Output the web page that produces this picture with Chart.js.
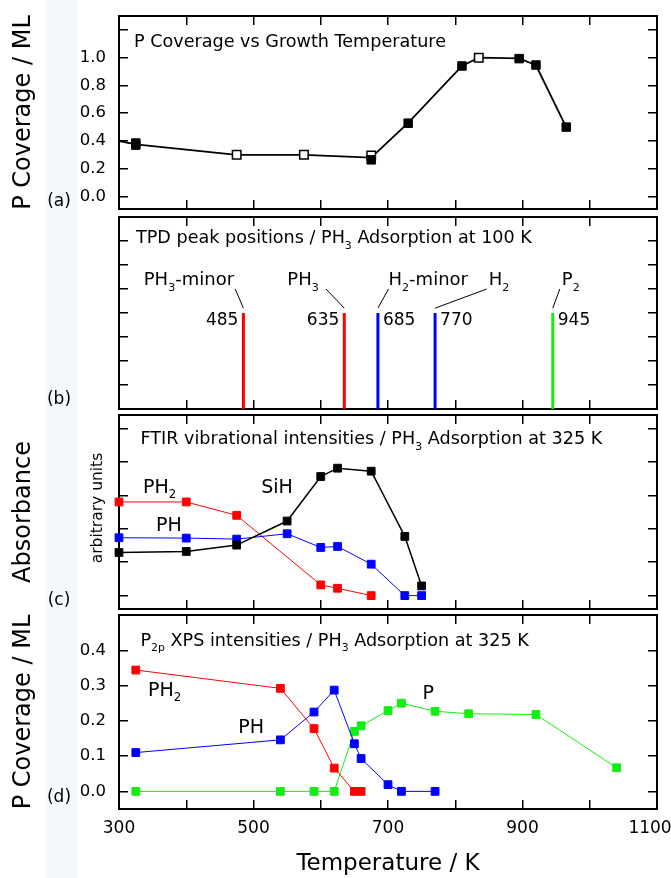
<!DOCTYPE html>
<html>
<head>
<meta charset="utf-8">
<script src="https://cdn.jsdelivr.net/npm/chart.js@4.4.1/dist/chart.umd.min.js"></script>
<style>
html,body{margin:0;padding:0;background:#fff;}
#wrap{position:relative;width:671px;height:878px;overflow:hidden;background:#fff;}
#band{position:absolute;left:46px;top:0;width:32px;height:878px;background:#f3f9fc;}
canvas{position:absolute;left:0;top:0;}
</style>
</head>
<body>
<div id="wrap">
<div id="band"></div>
<canvas id="ca" width="671" height="878"></canvas>
<canvas id="cb" width="671" height="878"></canvas>
<canvas id="cc" width="671" height="878"></canvas>
<canvas id="cd" width="671" height="878"></canvas>
</div>
<script>
// ---------------- DATA ----------------
const xTickValues = [300, 400, 500, 600, 700, 800, 900, 1000, 1100];
const xLabeledTicks = [300, 500, 700, 900, 1100];

// (a) P coverage vs growth temperature
const aLineTemp = [300, 325, 475, 575, 675, 730, 810, 835, 895, 920, 965];
const aLineCov  = [0.40, 0.375, 0.30, 0.30, 0.28, 0.53, 0.94, 1.00, 0.995, 0.945, 0.50];
const aFilledTemp = [325, 325, 675, 730, 810, 895, 920, 965];
const aFilledCov  = [0.385, 0.37, 0.264, 0.528, 0.94, 0.993, 0.947, 0.50];
const aOpenTemp = [475, 575, 675, 835];
const aOpenCov  = [0.30, 0.30, 0.295, 1.00];
const aYTicks = [0, 0.2, 0.4, 0.6, 0.8, 1.0, 1.2];
const aYLabeled = [0, 0.2, 0.4, 0.6, 0.8, 1.0];

// (b) TPD peak positions
const tpdPeakTemp = [485, 635, 685, 770, 945];
const tpdPeakHeight = [4, 4, 4, 4, 4];
const tpdSpecies = [
  [['PH',0],['3',1],['-minor',0]],
  [['PH',0],['3',1]],
  [['H',0],['2',1],['-minor',0]],
  [['H',0],['2',1]],
  [['P',0],['2',1]]
];
const tpdLabelTemp  = [336.8, 550.3, 700.7, 849.7, 958.5];
const tpdLeaderTemp = [472.8, 607.8, 700.7, 846.7, 955.5];
const bYTicks = [1, 2, 3, 4, 5, 6, 7];

// (c) FTIR vibrational intensities
const ftirTemp = [300, 400, 475, 550, 600, 625, 675, 725, 750];
const ftirSiH  = [1.29, 1.32, 1.51, 2.23, 3.56, 3.81, 3.72, 1.77, 0.29];
const ftirPH   = [1.73, 1.72, 1.69, 1.85, 1.44, 1.47, 0.94, 0.0, 0.0];
const ftirPH2Temp = [300, 400, 475, 600, 625, 675];
const ftirPH2  = [2.80, 2.80, 2.40, 0.32, 0.22, 0.0];
const cYTicks = [0, 1, 2, 3, 4, 5];

// (d) P2p XPS intensities
const xpsPH2Temp = [325, 540, 590, 620, 650, 660];
const xpsPH2 = [0.344, 0.292, 0.178, 0.066, 0.0, 0.0];
const xpsPHTemp = [325, 540, 590, 620, 650, 660, 700, 720, 770];
const xpsPH = [0.110, 0.146, 0.225, 0.287, 0.135, 0.093, 0.019, 0.0, 0.0];
const xpsPTemp = [325, 540, 590, 620, 650, 660, 700, 720, 770, 820, 920, 1040];
const xpsP = [0.0, 0.0, 0.0, 0.0, 0.170, 0.186, 0.229, 0.250, 0.227, 0.220, 0.218, 0.067];
const dYTicks = [0, 0.1, 0.2, 0.3, 0.4];
const dYLabeled = [0, 0.1, 0.2, 0.3, 0.4];

// ---------------- STYLE ----------------
const FAMILY = '"DejaVu Sans", sans-serif';
const RED = '#ff0000', BLUE = '#0000ff', GREEN = '#11ee11', BLACK = '#000000';
const tpdColors = [RED, RED, BLUE, BLUE, GREEN];
const tpdNumSide = ['left', 'left', 'right', 'right', 'right'];
const TITLE_SIZE = 17.6;

function pts(xs, ys) { return xs.map((x, i) => ({x: x, y: ys[i]})); }
function has(list, v) { return list.some(l => Math.abs(l - v) < 1e-9); }

function drawRich(ctx, x, yc, segs, size, align) {
  const sub = size * 0.62;
  const y = yc + size * 0.365;
  let w = 0;
  const widths = segs.map(([t, s]) => {
    ctx.font = (s ? sub : size) + 'px ' + FAMILY;
    const m = ctx.measureText(t).width; w += m; return m;
  });
  let cx = align === 'right' ? x - w : (align === 'center' ? x - w / 2 : x);
  ctx.textAlign = 'left';
  ctx.textBaseline = 'alphabetic';
  segs.forEach(([t, s], i) => {
    ctx.font = (s ? sub : size) + 'px ' + FAMILY;
    ctx.fillText(t, cx, s ? y + size * 0.3 : y);
    cx += widths[i];
  });
}

const DECO = {};
const deco = {
  id: 'deco',
  afterDraw(chart) {
    const items = DECO[chart.canvas.id] || [];
    const ctx = chart.ctx, a = chart.chartArea;
    const xs = chart.scales.x, ys = chart.scales.y;
    ctx.save();
    ctx.fillStyle = BLACK; ctx.strokeStyle = BLACK;
    for (const it of items) {
      let px, py;
      if (it.coord === 'data') { px = xs.getPixelForValue(it.x); py = ys.getPixelForValue(it.y); }
      else { px = a.left + it.x; py = (it.fromBottom ? a.bottom : a.top) + it.y; }
      px += it.dx || 0;
      if (it.kind === 'line') {
        const px2 = xs.getPixelForValue(it.x2), py2 = ys.getPixelForValue(it.y2);
        ctx.lineWidth = 1;
        ctx.beginPath(); ctx.moveTo(px, py); ctx.lineTo(px2, py2); ctx.stroke();
      } else if (it.kind === 'vtext') {
        ctx.save();
        ctx.translate(px, py); ctx.rotate(-Math.PI / 2);
        ctx.font = it.size + 'px ' + FAMILY;
        ctx.textAlign = 'center'; ctx.textBaseline = 'middle';
        ctx.fillText(it.text, 0, 0);
        ctx.restore();
      } else {
        drawRich(ctx, px, py, it.segs, it.size, it.align || 'left');
      }
    }
    ctx.restore();
  }
};

function xLabel(v) {
  if (!has(xLabeledTicks, v)) return '';
  // last label sits against the page edge: pad it so it stays fully visible
  return v === 1100 ? String(v) + '\u2002 ' : String(v);
}

function buildScales(c) {
  const tickGrid = {drawOnChartArea: false, drawTicks: true, tickLength: -9, color: BLACK, lineWidth: 1.5};
  const border = {display: true, width: 2, color: BLACK};
  const setX = s => { s.ticks = xTickValues.map(v => ({value: v})); };
  const setY = s => { s.ticks = c.yTicks.map(v => ({value: v})); };
  return {
    x: {
      type: 'linear', position: 'bottom', min: 300, max: 1100,
      afterBuildTicks: setX,
      ticks: {display: !!c.xLabels, autoSkip: false, maxRotation: 0, padding: 18, color: BLACK,
              font: {family: FAMILY, size: 17}, callback: xLabel},
      grid: tickGrid, border: border,
      title: {display: !!c.xTitle, text: c.xTitle || '', color: BLACK,
              font: {family: FAMILY, size: 23}, padding: {top: 0, bottom: 0}},
      afterFit: s => { s.height = c.xHeight; s.paddingLeft = 0; s.paddingRight = 0; }
    },
    x2: {
      type: 'linear', position: 'top', min: 300, max: 1100,
      afterBuildTicks: setX,
      ticks: {display: false, autoSkip: false},
      grid: tickGrid, border: border,
      afterFit: s => { s.height = 0; s.paddingLeft = 0; s.paddingRight = 0; }
    },
    y: {
      type: 'linear', position: 'left', min: c.yMin, max: c.yMax,
      afterBuildTicks: setY,
      ticks: {display: !!c.yLabeled, autoSkip: false, padding: 22, color: BLACK,
              font: {family: FAMILY, size: 16.5},
              callback: v => (c.yLabeled && has(c.yLabeled, v)) ? v.toFixed(1) : ''},
      grid: tickGrid, border: border,
      title: {display: !!c.yTitle, text: c.yTitle || '', color: BLACK,
              font: {family: FAMILY, size: 24}, padding: {top: 9, bottom: 0}},
      afterFit: s => { s.width = 119; s.paddingTop = 0; s.paddingBottom = 0; }
    },
    y2: {
      type: 'linear', position: 'right', min: c.yMin, max: c.yMax,
      afterBuildTicks: setY,
      ticks: {display: false},
      grid: tickGrid, border: border,
      afterFit: s => { s.width = 14; s.paddingTop = 0; s.paddingBottom = 0; }
    }
  };
}

function makeChart(id, c) {
  DECO[id] = c.items;
  return new Chart(document.getElementById(id), {
    type: 'scatter',
    data: {datasets: c.datasets},
    options: {
      responsive: false, animation: false, devicePixelRatio: 1,
      layout: {padding: {top: c.top, bottom: c.bottom, left: 0, right: 0}},
      plugins: {legend: {display: false}, tooltip: {enabled: false}, title: {display: false}},
      scales: buildScales(c)
    },
    plugins: [deco]
  });
}

function lineSet(label, xs, ys, color, width, order) {
  return {label: label, data: pts(xs, ys), showLine: true, borderColor: color, borderWidth: width,
          pointRadius: 0, pointHoverRadius: 0, order: order};
}
function markSet(label, xs, ys, color, fill, radius, order, bw) {
  return {label: label, data: pts(xs, ys), showLine: false, pointStyle: 'rect', clip: false,
          pointRadius: radius, pointHoverRadius: radius, pointBorderWidth: bw || 1,
          borderColor: color, backgroundColor: fill, pointBackgroundColor: fill,
          pointBorderColor: color, order: order};
}
function lineMarkSet(label, xs, ys, color, width, radius, order) {
  return {label: label, data: pts(xs, ys), showLine: true, borderColor: color, borderWidth: width,
          pointStyle: 'rect', pointRadius: radius, pointHoverRadius: radius, pointBorderWidth: 1,
          pointBackgroundColor: color, pointBorderColor: color, backgroundColor: color,
          clip: false, order: order};
}

// ---- (a) ----
makeChart('ca', {
  top: 16, bottom: 878 - 209, xHeight: 0,
  yMin: -0.09, yMax: 1.3, yTicks: aYTicks, yLabeled: aYLabeled, yTitle: 'P Coverage / ML',
  datasets: [
    markSet('filled', aFilledTemp, aFilledCov, BLACK, BLACK, 6, 1),
    markSet('open', aOpenTemp, aOpenCov, BLACK, '#ffffff', 6, 2, 1.5),
    lineSet('trend', aLineTemp, aLineCov, BLACK, 1.8, 3)
  ],
  items: [
    {kind: 'text', coord: 'area', x: 15, y: 25, size: TITLE_SIZE, segs: [['P Coverage vs Growth Temperature', 0]]},
    {kind: 'text', coord: 'area', fromBottom: true, x: -60, y: -9, size: 17, align: 'center', segs: [['(a)', 0]]}
  ]
});

// ---- (b) ----
const bItems = [
  {kind: 'text', coord: 'area', x: 17, y: 20, size: TITLE_SIZE,
   segs: [['TPD peak positions / PH', 0], ['3', 1], [' Adsorption at 100 K', 0]]},
  {kind: 'text', coord: 'area', fromBottom: true, x: -60, y: -11, size: 17, align: 'center', segs: [['(b)', 0]]}
];
tpdPeakTemp.forEach((t, i) => {
  const left = tpdNumSide[i] === 'left';
  bItems.push({kind: 'text', coord: 'data', x: t, y: 3.76, dx: left ? -5 : 5, size: 17,
               align: left ? 'right' : 'left', segs: [[String(t), 0]]});
  bItems.push({kind: 'line', coord: 'data', x: t, y: 4.2, x2: tpdLeaderTemp[i], y2: 5.0});
  bItems.push({kind: 'text', coord: 'data', x: tpdLabelTemp[i], y: 5.42, size: 18, segs: tpdSpecies[i]});
});
makeChart('cb', {
  top: 217, bottom: 878 - 409, xHeight: 0,
  yMin: 0, yMax: 8, yTicks: bYTicks,
  datasets: tpdPeakTemp.map((t, i) =>
    lineSet('peak ' + t, [t, t], [0, tpdPeakHeight[i]], tpdColors[i], 3, i)),
  items: bItems
});

// ---- (c) ----
makeChart('cc', {
  top: 415, bottom: 878 - 609, xHeight: 0,
  yMin: -0.4, yMax: 5.4, yTicks: cYTicks, yTitle: 'Absorbance',
  datasets: [
    lineMarkSet('PH2', ftirPH2Temp, ftirPH2, RED, 1, 5.5, 3),
    lineMarkSet('PH', ftirTemp, ftirPH, BLUE, 1, 5.5, 2),
    lineMarkSet('SiH', ftirTemp, ftirSiH, BLACK, 1.5, 5.5, 1)
  ],
  items: [
    {kind: 'text', coord: 'area', x: 21.5, y: 23, size: TITLE_SIZE,
     segs: [['FTIR vibrational intensities / PH', 0], ['3', 1], [' Adsorption at 325 K', 0]]},
    {kind: 'text', coord: 'data', x: 335.8, y: 3.29, size: 19, segs: [['PH', 0], ['2', 1]]},
    {kind: 'text', coord: 'data', x: 355, y: 2.13, size: 19, segs: [['PH', 0]]},
    {kind: 'text', coord: 'data', x: 511.5, y: 3.29, size: 19, segs: [['SiH', 0]]},
    {kind: 'vtext', coord: 'area', x: -20.6, y: 93, size: 15.5, text: 'arbitrary units'},
    {kind: 'text', coord: 'area', fromBottom: true, x: -60, y: -10, size: 17, align: 'center', segs: [['(c)', 0]]}
  ]
});

// ---- (d) ----
makeChart('cd', {
  top: 615, bottom: 0, xHeight: 878 - 809, xLabels: true, xTitle: 'Temperature / K',
  yMin: -0.05, yMax: 0.5, yTicks: dYTicks, yLabeled: dYLabeled, yTitle: 'P Coverage / ML',
  datasets: [
    lineMarkSet('PH2', xpsPH2Temp, xpsPH2, RED, 1, 5.5, 1),
    lineMarkSet('PH', xpsPHTemp, xpsPH, BLUE, 1, 5.5, 2),
    lineMarkSet('P', xpsPTemp, xpsP, GREEN, 1, 5.5, 3)
  ],
  items: [
    {kind: 'text', coord: 'area', x: 21.5, y: 24.5, size: TITLE_SIZE,
     segs: [['P', 0], ['2p', 1], [' XPS intensities / PH', 0], ['3', 1], [' Adsorption at 325 K', 0]]},
    {kind: 'text', coord: 'data', x: 343.2, y: 0.291, size: 19, segs: [['PH', 0], ['2', 1]]},
    {kind: 'text', coord: 'data', x: 477.3, y: 0.186, size: 19, segs: [['PH', 0]]},
    {kind: 'text', coord: 'data', x: 751.4, y: 0.282, size: 19, segs: [['P', 0]]},
    {kind: 'text', coord: 'area', fromBottom: true, x: -60, y: -13.5, size: 17, align: 'center', segs: [['(d)', 0]]}
  ]
});
</script>
</body>
</html>
